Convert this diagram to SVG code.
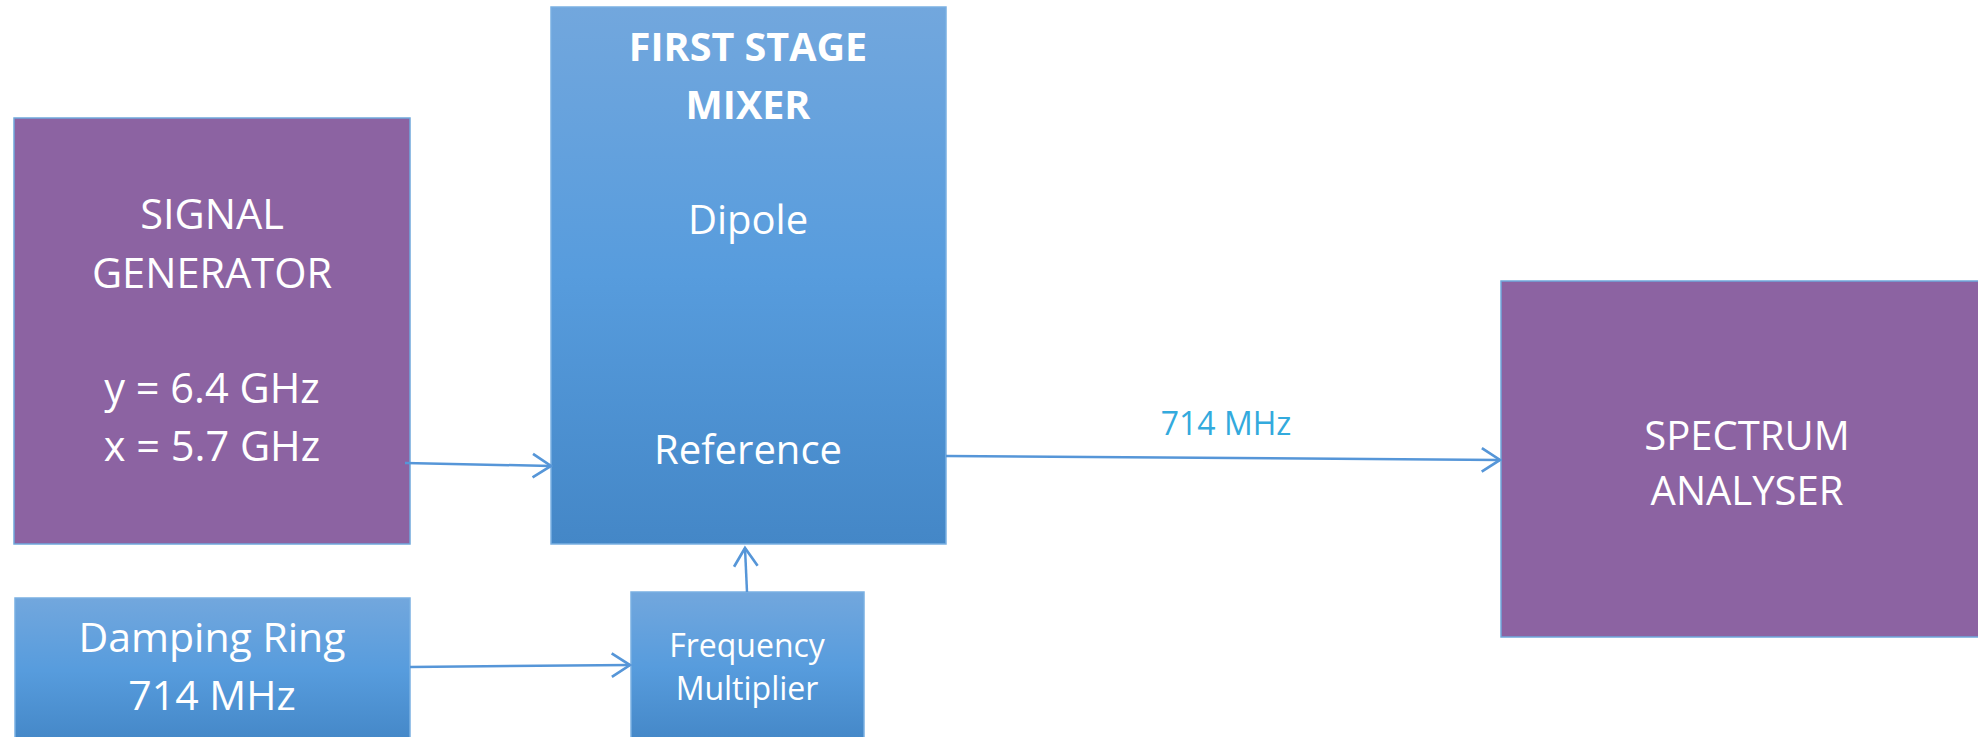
<svg xmlns="http://www.w3.org/2000/svg" width="1978" height="737" viewBox="0 0 1978 737">
  <style>
    .purple { fill: #8C63A2; stroke: #6FA8DC; stroke-width: 1.5; }
    .blue { fill: url(#blueGrad); stroke: #7AB0E2; stroke-width: 1.5; }
    .t { font-family: "Open Sans", "Liberation Sans", sans-serif; fill: #FFFFFF; text-anchor: middle; }
    .b { font-weight: bold; }
    .conn { stroke: #5696D8; stroke-width: 2.5; fill: none; marker-end: url(#arrow); }
    .lbl { font-family: "Open Sans", "Liberation Sans", sans-serif; fill: #33AADD; text-anchor: middle; font-size: 32px; }
  </style>
  <defs>
    <linearGradient id="blueGrad" x1="0" y1="0" x2="0" y2="1">
      <stop offset="0" stop-color="#72A7DD"/>
      <stop offset="0.5" stop-color="#579CDD"/>
      <stop offset="1" stop-color="#4487C7"/>
    </linearGradient>
    <marker id="arrow" markerUnits="userSpaceOnUse" markerWidth="30" markerHeight="30" viewBox="-22 -14 26 28" refX="0" refY="0" orient="auto">
      <path d="M-17,-11 L0,0 L-17,11" fill="none" stroke="#5696D8" stroke-width="2.5"/>
    </marker>
  </defs>

  <g id="signal-generator">
    <rect class="purple" x="14" y="118" width="396" height="426"/>
    <text class="t" x="212" y="229" font-size="41.5">SIGNAL</text>
    <text class="t" x="212" y="288" font-size="41.5">GENERATOR</text>
    <text class="t" x="212" y="403" font-size="41.5">y = 6.4 GHz</text>
    <text class="t" x="212" y="461" font-size="41.5">x = 5.7 GHz</text>
  </g>

  <g id="first-stage-mixer">
    <rect class="blue" x="551" y="7" width="395" height="537"/>
    <text class="t b" x="748" y="61" font-size="39.5">FIRST STAGE</text>
    <text class="t b" x="748" y="119" font-size="39.5">MIXER</text>
    <text class="t" x="748" y="234" font-size="40">Dipole</text>
    <text class="t" x="748" y="464" font-size="40">Reference</text>
  </g>

  <g id="damping-ring">
    <rect class="blue" x="15" y="598" width="395" height="145"/>
    <text class="t" x="212" y="652" font-size="41">Damping Ring</text>
    <text class="t" x="212" y="710" font-size="41">714 MHz</text>
  </g>

  <g id="frequency-multiplier">
    <rect class="blue" x="631" y="592" width="233" height="151"/>
    <text class="t" x="747" y="657" font-size="32">Frequency</text>
    <text class="t" x="747" y="700" font-size="32">Multiplier</text>
  </g>

  <g id="spectrum-analyser">
    <rect class="purple" x="1501" y="281" width="500" height="356"/>
    <text class="t" x="1747" y="450" font-size="40">SPECTRUM</text>
    <text class="t" x="1747" y="505" font-size="40">ANALYSER</text>
  </g>

  <g id="connectors">
    <line class="conn" x1="405" y1="463" x2="551" y2="466"/>
    <line class="conn" x1="946" y1="456" x2="1500" y2="460"/>
    <line class="conn" x1="410" y1="667" x2="630" y2="665"/>
    <line class="conn" x1="747" y1="592" x2="745" y2="548"/>
    <text class="lbl" x="1226" y="435">714 MHz</text>
  </g>
</svg>
